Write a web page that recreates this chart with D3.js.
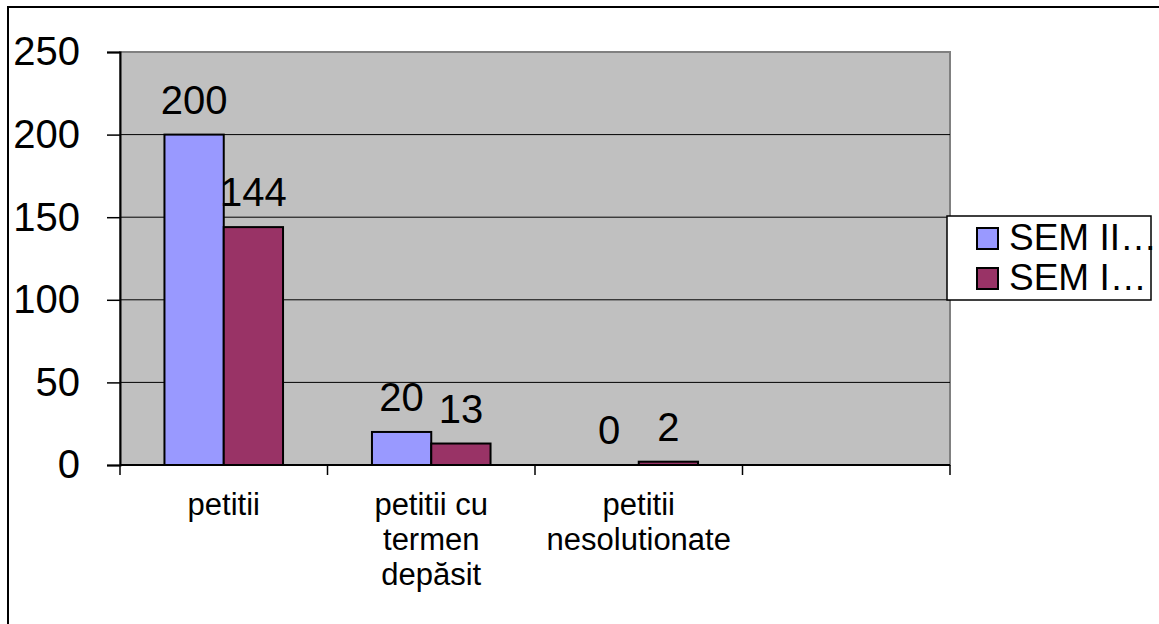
<!DOCTYPE html>
<html>
<head>
<meta charset="utf-8">
<script src="https://cdn.jsdelivr.net/npm/d3@7"></script>
<style>
  body { margin: 0; background: #fff; }
  text { font-family: "Liberation Sans", Arial, sans-serif; fill: #000; }
</style>
</head>
<body>
<div class="container"></div>
<script>
const WIDTH = 1159
const HEIGHT = 624

const categories = ['petitii', 'petitii cu\ntermen\ndepăsit', 'petitii\nnesolutionate', '']
const series = ['SEM II…', 'SEM I…']
const semII = [200, 20, 0, null]
const semI = [144, 13, 2, null]
const yTicks = [0, 50, 100, 150, 200, 250]

const COLORS = ['#9999ff', '#993366']

const plot = { left: 120, right: 950, top: 52, bottom: 465 }

const svg = d3.select('.container')
  .append('svg')
  .attr('xmlns', 'http://www.w3.org/2000/svg')
  .attr('width', WIDTH)
  .attr('height', HEIGHT)

// outer chart frame
svg.append('rect')
  .attr('x', 8).attr('y', 7)
  .attr('width', WIDTH + 20).attr('height', HEIGHT + 20)
  .attr('fill', '#fff')
  .attr('stroke', '#000')
  .attr('stroke-width', 2)

const x = d3.scaleBand()
  .domain(categories)
  .range([plot.left, plot.right])
  .paddingInner(1.5 / 3.5)
  .paddingOuter(0.75 / 3.5)

const xs = d3.scaleBand()
  .domain(series)
  .range([0, x.bandwidth()])

const y = d3.scaleLinear()
  .domain([0, 250])
  .range([plot.bottom, plot.top])

// plot background
svg.append('rect')
  .attr('x', plot.left).attr('y', plot.top)
  .attr('width', plot.right - plot.left)
  .attr('height', plot.bottom - plot.top)
  .attr('fill', '#c0c0c0')
  .attr('stroke', '#808080')
  .attr('stroke-width', 2)

// gridlines
svg.append('g')
  .selectAll('line')
  .data(yTicks.filter(d => d > 0 && d < 250))
  .join('line')
  .attr('x1', plot.left).attr('x2', plot.right)
  .attr('y1', d => y(d)).attr('y2', d => y(d))
  .attr('stroke', '#000')
  .attr('stroke-width', 1)

// bars
const rows = categories.map((c, i) => ({ cat: c, values: [semII[i], semI[i]] }))

const groups = svg.append('g')
  .selectAll('g')
  .data(rows)
  .join('g')
  .attr('transform', d => `translate(${x(d.cat)},0)`)

groups.selectAll('rect')
  .data(d => d.values.map((v, j) => ({ s: series[j], v, j })).filter(e => e.v !== null && e.v > 0))
  .join('rect')
  .attr('x', d => xs(d.s))
  .attr('y', d => y(d.v))
  .attr('width', xs.bandwidth())
  .attr('height', d => y(0) - y(d.v))
  .attr('fill', d => COLORS[d.j])
  .attr('stroke', '#000')
  .attr('stroke-width', 2)

groups.selectAll('text')
  .data(d => d.values.map((v, j) => ({ s: series[j], v, j })).filter(e => e.v !== null))
  .join('text')
  .attr('x', d => xs(d.s) + xs.bandwidth() / 2)
  .attr('y', d => y(d.v) - 21)
  .attr('text-anchor', 'middle')
  .attr('font-size', 40)
  .text(d => d.v)

// y axis
const yAxis = svg.append('g')
  .attr('transform', `translate(${plot.left},0)`)
  .call(d3.axisLeft(y).tickValues(yTicks).tickSize(13).tickPadding(27))
yAxis.select('.domain').attr('stroke', '#000').attr('stroke-width', 2)
yAxis.selectAll('.tick line').attr('stroke', '#000').attr('stroke-width', 1.5)
yAxis.selectAll('.tick text')
  .attr('font-size', 40)
  .attr('font-family', '"Liberation Sans", Arial, sans-serif')
  .attr('fill', '#000')

// x axis
svg.append('line')
  .attr('x1', plot.left).attr('x2', plot.right)
  .attr('y1', plot.bottom).attr('y2', plot.bottom)
  .attr('stroke', '#000').attr('stroke-width', 2)

const xTickPos = categories.map(c => x(c) - x.step() * x.paddingInner() / 2).concat([plot.right])
svg.append('g')
  .selectAll('line')
  .data(xTickPos)
  .join('line')
  .attr('x1', d => d).attr('x2', d => d)
  .attr('y1', plot.bottom).attr('y2', plot.bottom + 10)
  .attr('stroke', '#000').attr('stroke-width', 1.5)

const labels = svg.append('g')
  .selectAll('text')
  .data(categories.filter(c => c))
  .join('text')
  .attr('text-anchor', 'middle')
  .attr('font-size', 31)
  .attr('transform', d => `translate(${x(d) + x.bandwidth() / 2},515)`)

labels.selectAll('tspan')
  .data(d => d.split('\n'))
  .join('tspan')
  .attr('x', 0)
  .attr('y', (d, i) => i * 35)
  .text(d => d)

// legend
const legend = svg.append('g').attr('transform', 'translate(947,216)')
legend.append('rect')
  .attr('width', 204).attr('height', 84)
  .attr('fill', '#fff')
  .attr('stroke', '#000')
  .attr('stroke-width', 1.5)

const items = legend.selectAll('g.item')
  .data(series)
  .join('g')
  .attr('class', 'item')
  .attr('transform', (d, i) => `translate(30,${12 + i * 40})`)

items.append('rect')
  .attr('width', 21).attr('height', 21)
  .attr('fill', (d, i) => COLORS[i])
  .attr('stroke', '#000')
  .attr('stroke-width', 2)

items.append('text')
  .attr('x', 32)
  .attr('y', 22)
  .attr('font-size', 37)
  .text(d => d)
</script>
</body>
</html>
